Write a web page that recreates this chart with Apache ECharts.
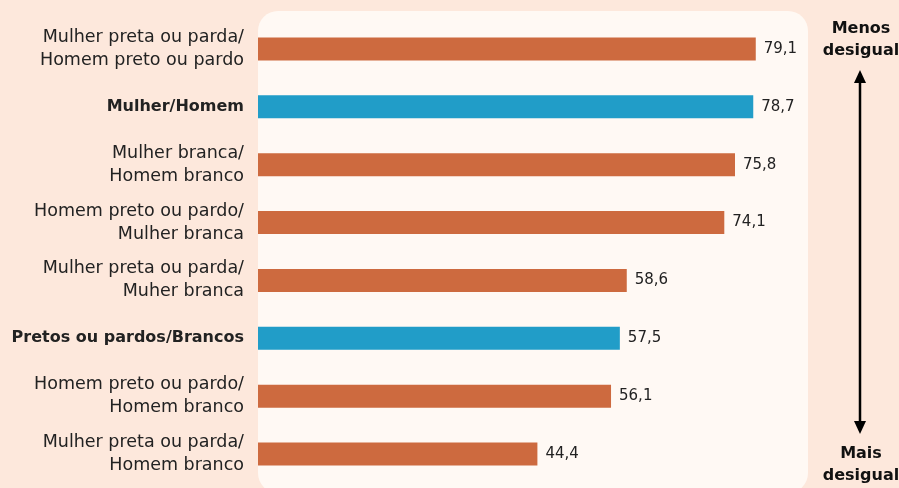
<!DOCTYPE html>
<html>
<head>
<meta charset="utf-8">
<script src="https://cdn.jsdelivr.net/npm/echarts@6/dist/echarts.min.js"></script>
<style>
  html, body { margin: 0; padding: 0; background: #fde8dc; }
  #chart { width: 899px; height: 488px; }
</style>
</head>
<body>
<div id="chart"></div>
<script>
const categories = [
  'Mulher preta ou parda/\nHomem preto ou pardo',
  'Mulher/Homem',
  'Mulher branca/\nHomem branco',
  'Homem preto ou pardo/\nMulher branca',
  'Mulher preta ou parda/\nMuher branca',
  'Pretos ou pardos/Brancos',
  'Homem preto ou pardo/\nHomem branco',
  'Mulher preta ou parda/\nHomem branco'
];
const values = [79.1, 78.7, 75.8, 74.1, 58.6, 57.5, 56.1, 44.4];
// the two aggregate comparisons are drawn in blue and bold
const highlighted = ['Mulher/Homem', 'Pretos ou pardos/Brancos'];

const orange = '#cd6a3f';
const blue = '#219dc8';
const font = '"DejaVu Sans", sans-serif';

const seriesData = values.map((v, i) => ({
  value: v,
  itemStyle: { color: highlighted.includes(categories[i]) ? blue : orange }
}));

const myChart = echarts.init(document.getElementById('chart'));
myChart.setOption({
  backgroundColor: '#fde8dc',
  animation: false,
  graphic: [
    {
      type: 'rect',
      z: -10,
      shape: { x: 258, y: 11, width: 550, height: 482, r: 20 },
      style: { fill: '#fff9f4' }
    },
    {
      type: 'text',
      x: 861, y: 18,
      style: {
        text: 'Menos\ndesigual', align: 'center',
        font: 'bold 16px ' + font, fill: '#111', lineHeight: 22
      }
    },
    {
      type: 'text',
      x: 861, y: 443,
      style: {
        text: 'Mais\ndesigual', align: 'center',
        font: 'bold 16px ' + font, fill: '#111', lineHeight: 22
      }
    },
    {
      type: 'line',
      shape: { x1: 860, y1: 80, x2: 860, y2: 424 },
      style: { stroke: '#000', lineWidth: 2.5 }
    },
    {
      type: 'polygon',
      shape: { points: [[854, 83], [866, 83], [860, 70]] },
      style: { fill: '#000' }
    },
    {
      type: 'polygon',
      shape: { points: [[854, 421], [866, 421], [860, 434]] },
      style: { fill: '#000' }
    }
  ],
  grid: { left: 258, top: 20, width: 550, height: 463 },
  xAxis: {
    type: 'value',
    min: 0,
    max: 87.4,
    show: false
  },
  yAxis: {
    type: 'category',
    inverse: true,
    data: categories,
    axisLine: { show: false },
    axisTick: { show: false },
    axisLabel: {
      margin: 14,
      fontFamily: font,
      fontSize: 17.5,
      color: '#222',
      lineHeight: 23,
      formatter: val => highlighted.includes(val) ? '{b|' + val + '}' : val,
      rich: {
        b: { fontWeight: 'bold', fontFamily: font, fontSize: 16, color: '#222' }
      }
    }
  },
  series: [
    {
      type: 'bar',
      data: seriesData,
      barWidth: 23,
      label: {
        show: true,
        position: 'right',
        distance: 8,
        fontFamily: font,
        fontSize: 15,
        color: '#222',
        formatter: p => p.value.toFixed(1).replace('.', ',')
      }
    }
  ]
});
</script>
</body>
</html>
